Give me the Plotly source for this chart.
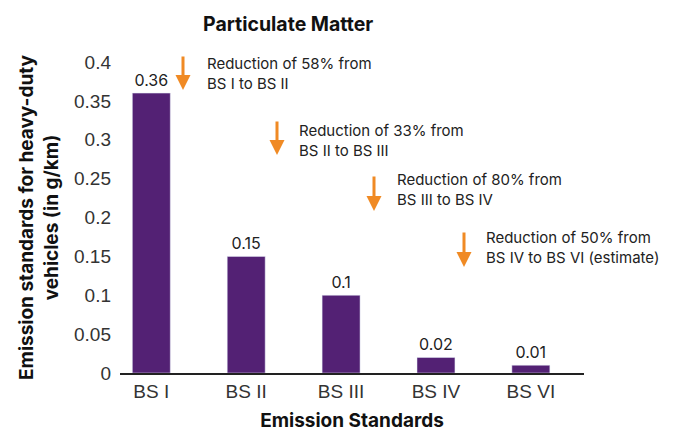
import plotly.graph_objects as go

categories = ["BS I", "BS II", "BS III", "BS IV", "BS VI"]
values = [0.36, 0.15, 0.1, 0.02, 0.01]
value_labels = ["0.36", "0.15", "0.1", "0.02", "0.01"]
y_ticks = [0, 0.05, 0.1, 0.15, 0.2, 0.25, 0.3, 0.35, 0.4]
y_tick_labels = ["0", "0.05", "0.1", "0.15", "0.2", "0.25", "0.3", "0.35", "0.4"]
notes = [
    "Reduction of 58% from<br>BS I to BS II",
    "Reduction of 33% from<br>BS II to BS III",
    "Reduction of 80% from<br>BS III to BS IV",
    "Reduction of 50% from<br>BS IV to BS VI (estimate)",
]

W, H = 673, 432
ML, MR, MT, MB = 120, 89, 62, 59
PW, PH = W - ML - MR, H - MT - MB

def px(x):
    return (x - ML) / PW

def py(y):
    return (H - MB - y) / PH

SANS = "Inter, sans-serif"
TICK = "Liberation Sans, Arial, sans-serif"

fig = go.Figure()
fig.add_trace(go.Bar(
    x=categories, y=values, text=value_labels, textposition="outside",
    textfont=dict(family=SANS, size=16, color="#222"),
    marker_color="#532174", width=0.4, cliponaxis=False,
))

# annotation positions (pixels): arrow x, arrow top, arrow bottom, text left, first line centre
note_pos = [(183, 55, 90, 205, 62), (277, 120, 155, 297, 129), (374, 175, 211, 395, 178), (464, 231, 267, 484, 236)]
annotations = []
for txt, (ax_, at, ab, tx, ty) in zip(notes, note_pos):
    annotations.append(dict(
        x=px(ax_), y=py(ab), ax=0, ay=-(ab - at), xref="paper", yref="paper",
        axref="pixel", ayref="pixel", text="", showarrow=True,
        arrowhead=2, arrowsize=1.0, arrowwidth=3, arrowcolor="#F08A24"))
    annotations.append(dict(
        x=px(tx), y=py(ty - 10), xref="paper", yref="paper", xanchor="left", yanchor="top",
        text=txt, showarrow=False, align="left",
        font=dict(family=SANS, size=15, color="#222")))

annotations.append(dict(x=px(288), y=py(24), xref="paper", yref="paper", xanchor="center", yanchor="middle",
                        text="<b>Particulate Matter</b>",
                        showarrow=False, font=dict(family=SANS, size=19.5, color="#111")))
annotations.append(dict(x=px(39), y=py(217), xref="paper", yref="paper", xanchor="center", yanchor="middle",
                        textangle=-90,
                        text="<b>Emission standards for heavy-duty<br>vehicles (in g/km)</b>",
                        showarrow=False, font=dict(family=SANS, size=19, color="#111")))

fig.update_layout(
    width=W, height=H, margin=dict(l=ML, r=MR, t=MT, b=MB, autoexpand=False),
    plot_bgcolor="white", paper_bgcolor="white", showlegend=False,
    annotations=annotations,
    xaxis=dict(range=[-0.33, 4.56], showline=True, linecolor="#222", linewidth=2,
               ticks="", tickfont=dict(family=TICK, size=19, color="#333"),
               title=dict(text="<b>Emission Standards</b>", font=dict(family=SANS, size=19, color="#111"), standoff=16)),
    yaxis=dict(range=[0, 0.4], tickvals=y_ticks, ticktext=y_tick_labels, showgrid=False, zeroline=False,
               ticks="", ticklabelstandoff=8,
               tickfont=dict(family=TICK, size=19, color="#333")),
    font=dict(family=SANS),
)
fig.write_html("out.html", config={"displayModeBar": False},
               post_script="document.body.style.margin='0px';")
